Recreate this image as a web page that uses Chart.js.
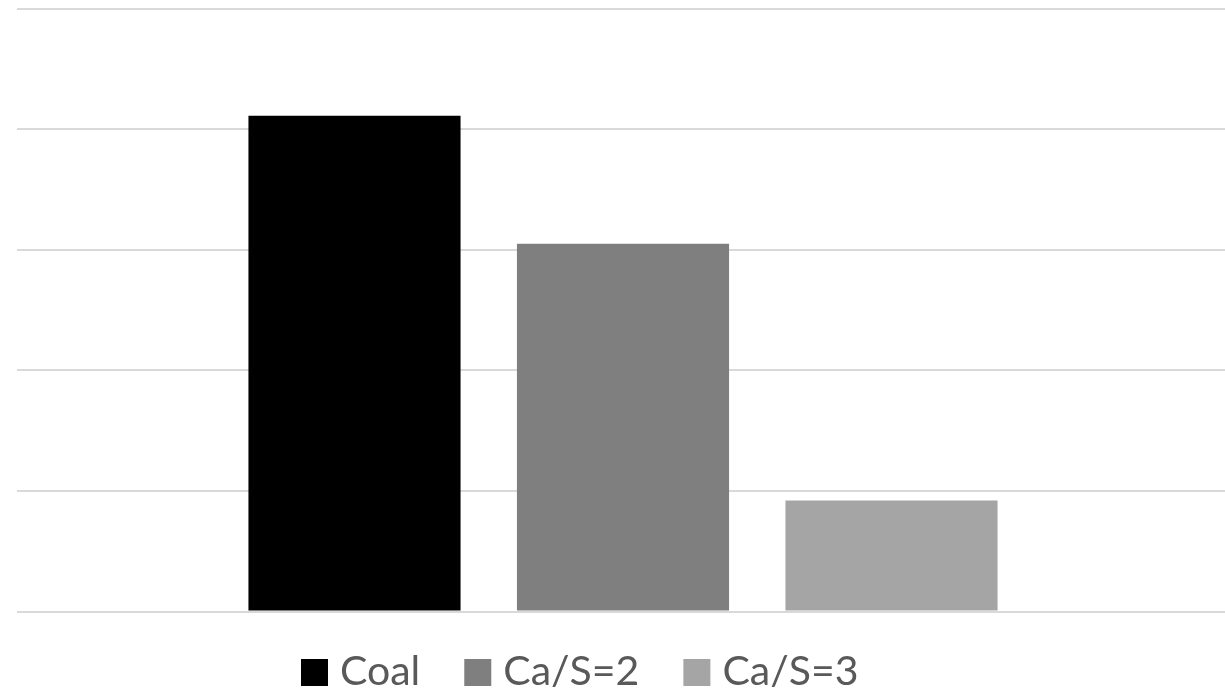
<!DOCTYPE html>
<html>
<head>
<meta charset="utf-8">
<script src="https://cdn.jsdelivr.net/npm/chart.js@4.4.1/dist/chart.umd.min.js"></script>
<style>
  html, body { margin: 0; padding: 0; background: #ffffff; overflow: hidden; }
  #wrap { position: relative; width: 1229px; height: 694px; }
</style>
</head>
<body>
<div id="wrap"><canvas id="chart"></canvas></div>
<script>
// Series names, fills and values (one bar per series, single category)
const categories = [''];
const seriesNames = ['Coal', 'Ca/S=2', 'Ca/S=3'];
const seriesColors = ['#000000', '#7f7f7f', '#a5a5a5'];
const coalValues = [4.11];
const caS2Values = [3.05];
const caS3Values = [0.92];
const yTicks = [0, 1, 2, 3, 4, 5];

const seriesValues = [coalValues, caS2Values, caS3Values];

// Legend drawn under the plot: square swatch followed by the series name
const bottomLegend = {
  id: 'bottomLegend',
  afterDraw(chart) {
    const ctx = chart.ctx;
    const font = '41px Lato, "Open Sans", sans-serif';
    const box = 27, textGap = 12, itemGap = 44;
    ctx.save();
    ctx.font = font;
    let x = 301;
    const boxTop = 659, baseline = 685;
    chart.data.datasets.forEach(ds => {
      ctx.fillStyle = ds.backgroundColor;
      ctx.fillRect(x, boxTop, box, box);
      x += box + textGap;
      ctx.fillStyle = '#595959';
      ctx.textBaseline = 'alphabetic';
      ctx.textAlign = 'left';
      ctx.fillText(ds.label, x, baseline);
      x += ctx.measureText(ds.label).width + itemGap;
    });
    ctx.restore();
  }
};

new Chart(document.getElementById('chart'), {
  type: 'bar',
  data: {
    labels: categories,
    datasets: seriesNames.map((name, i) => ({
      label: name,
      data: seriesValues[i],
      backgroundColor: seriesColors[i],
      borderWidth: 0,
      categoryPercentage: 0.6646,
      barPercentage: 0.79
    }))
  },
  options: {
    responsive: true,
    maintainAspectRatio: false,
    animation: false,
    layout: { padding: { left: 17, right: 0, top: 8.5, bottom: 82.5 } },
    plugins: {
      legend: { display: false },
      tooltip: { enabled: false }
    },
    scales: {
      x: { display: false },
      y: {
        min: yTicks[0],
        max: yTicks[yTicks.length - 1],
        afterBuildTicks: axis => { axis.ticks = yTicks.map(v => ({ value: v })); },
        ticks: { display: false },
        border: { display: false },
        grid: { color: '#d9d9d9', lineWidth: 2, drawTicks: false }
      }
    }
  },
  plugins: [bottomLegend]
});
</script>
</body>
</html>
